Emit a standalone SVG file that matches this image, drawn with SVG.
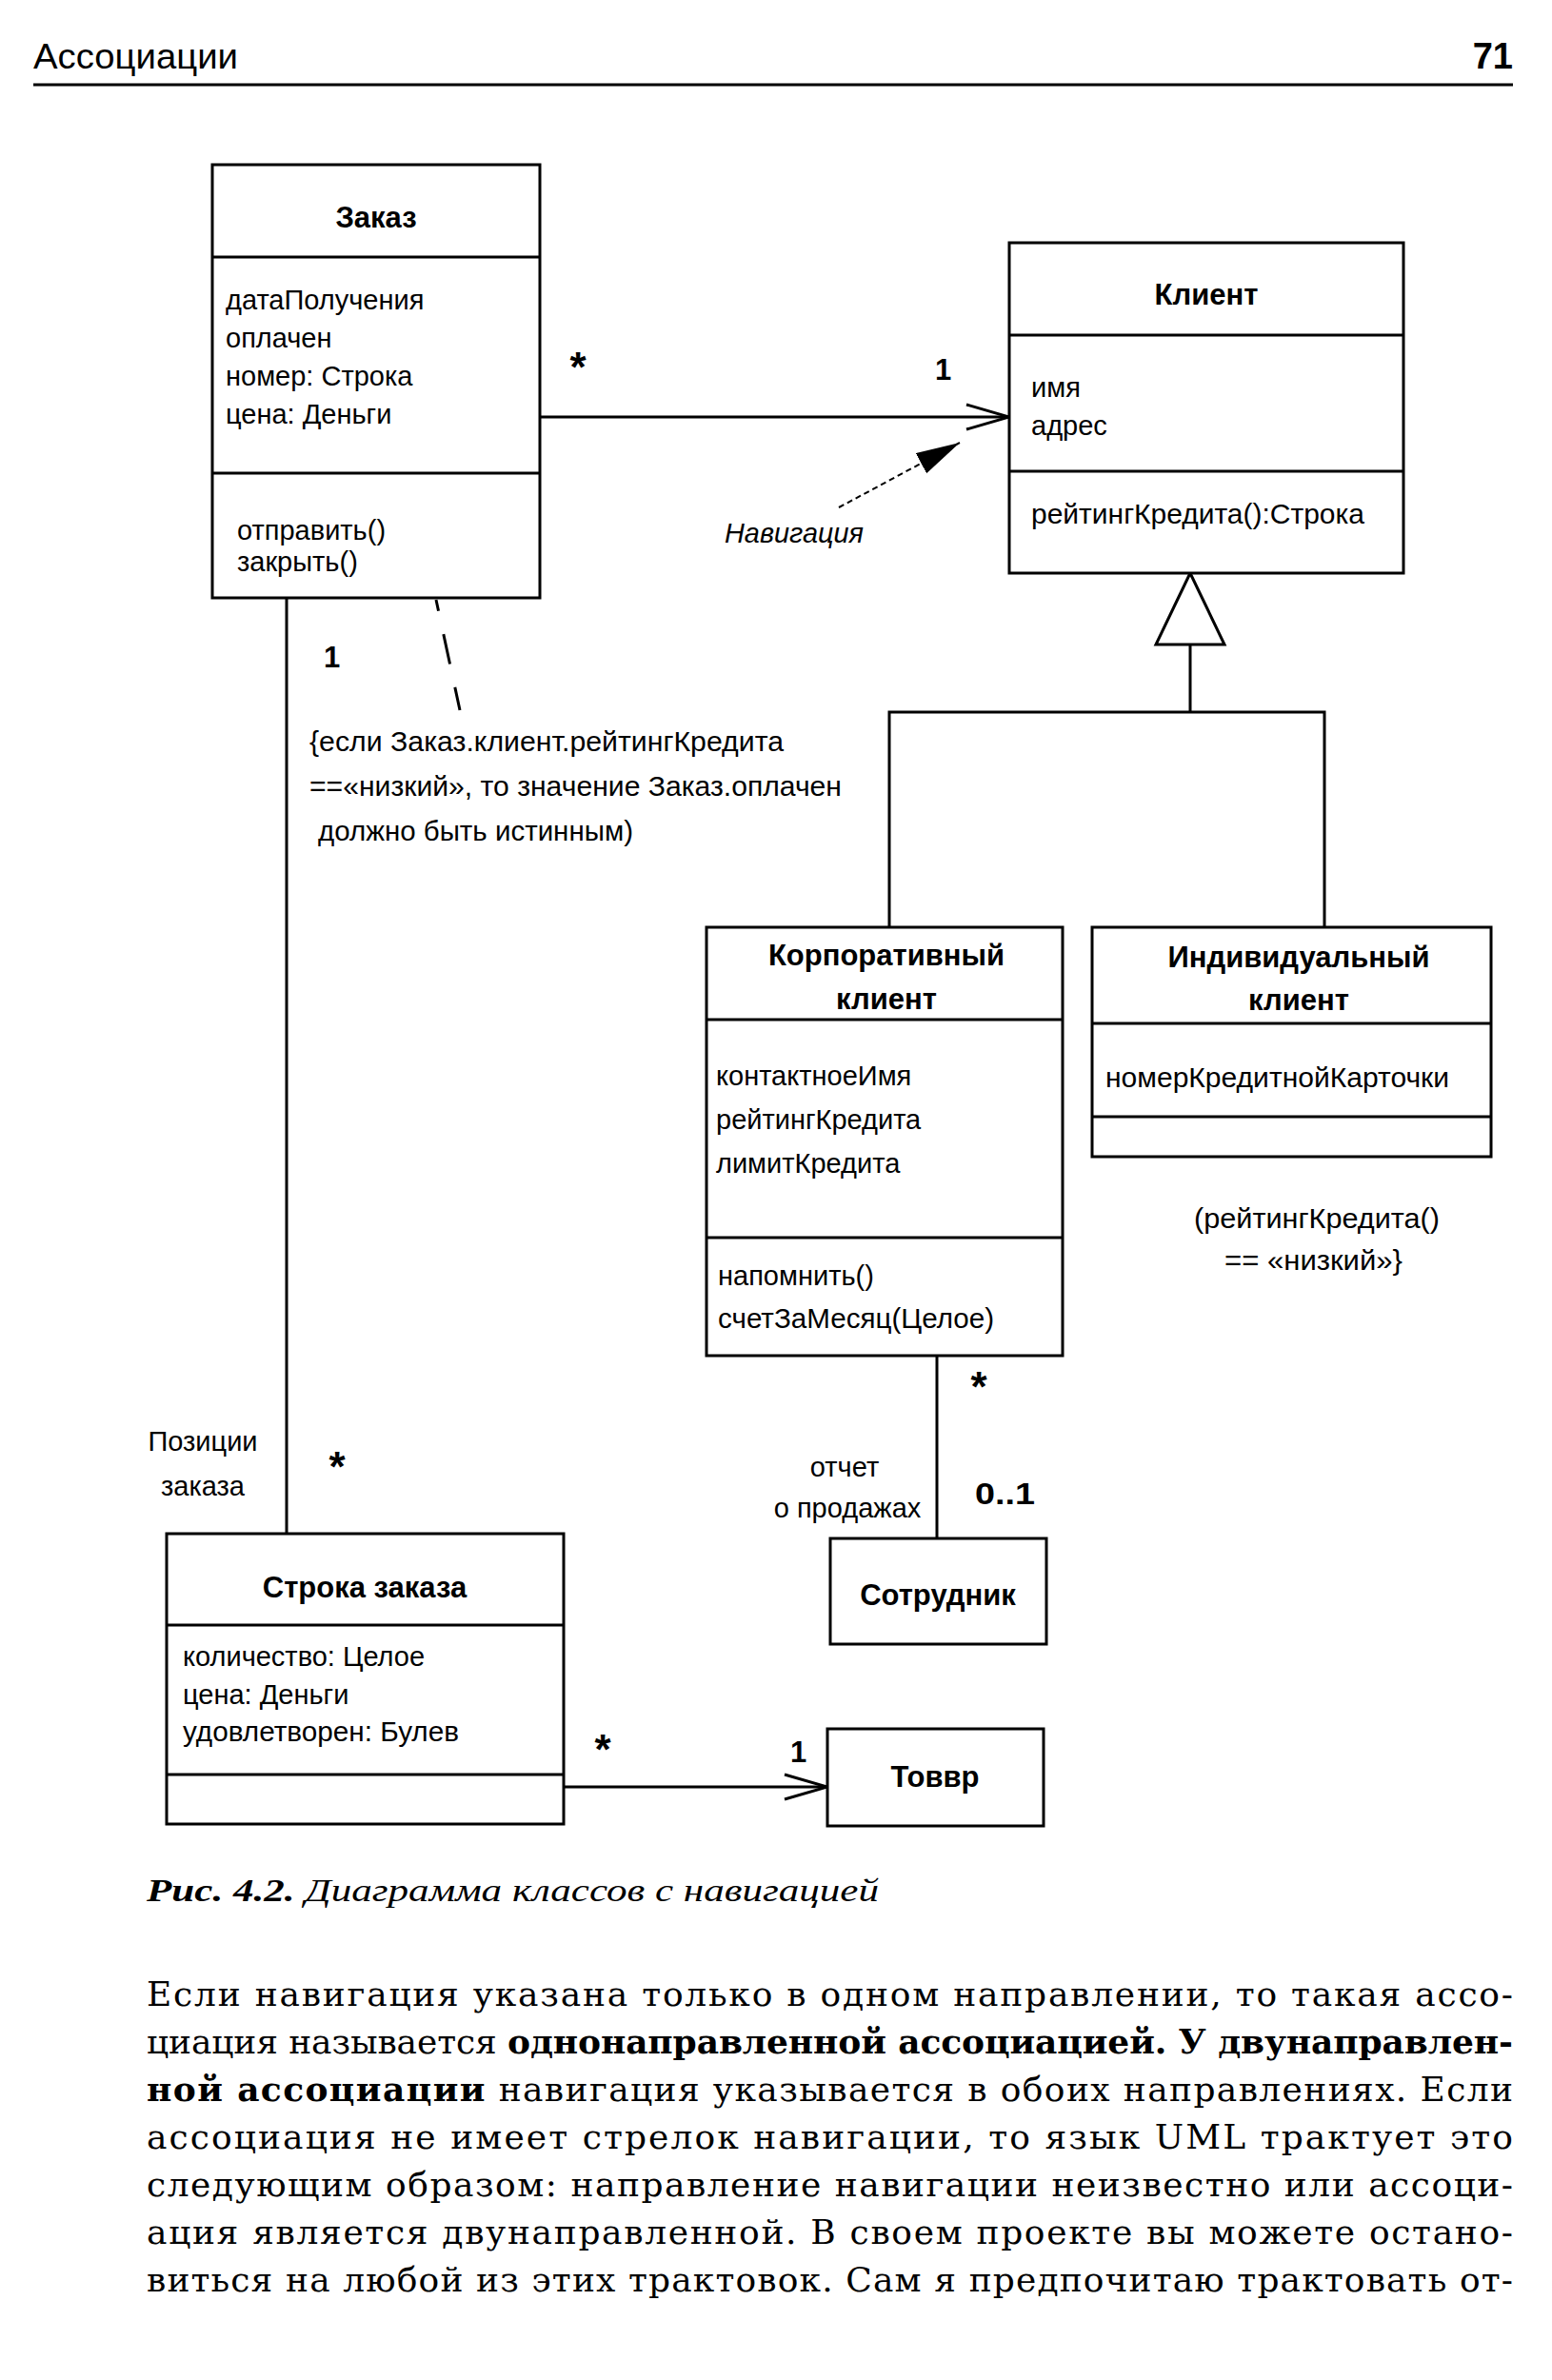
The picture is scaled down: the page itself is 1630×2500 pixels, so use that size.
<svg xmlns="http://www.w3.org/2000/svg" width="1630" height="2500" viewBox="0 0 1630 2500">
<style>
.bx{fill:#fff;stroke:#000;stroke-width:3}
.ln{fill:none;stroke:#000;stroke-width:3}
.t{font-family:"Liberation Sans",Arial,sans-serif;font-size:29px;fill:#000}
.ti{font-family:"Liberation Sans",Arial,sans-serif;font-size:31px;font-weight:bold;text-anchor:middle;fill:#000}
.mu{font-family:"Liberation Sans",Arial,sans-serif;font-size:31px;font-weight:bold;fill:#000}
.st{font-family:"Liberation Sans",Arial,sans-serif;font-size:44px;font-weight:bold;text-anchor:middle;fill:#000}
.it{font-family:"Liberation Sans",Arial,sans-serif;font-size:29px;font-style:italic;fill:#000}
.body{font-family:"DejaVu Serif","Liberation Serif",serif;font-size:36px;fill:#000}
.cap{font-family:"Liberation Serif",serif;font-size:33px;font-style:italic;fill:#000}
</style>
<defs>
<marker id="open" markerUnits="userSpaceOnUse" markerWidth="52" markerHeight="32" refX="47" refY="15" orient="auto">
<path d="M2,2 L47,15 L2,28" fill="none" stroke="#000" stroke-width="3"/>
</marker>
<marker id="nav" markerUnits="userSpaceOnUse" markerWidth="48" markerHeight="26" refX="46" refY="12" orient="auto">
<path d="M0,0 L46,12 L0,24 Z" fill="#000"/>
</marker>
</defs>
<rect width="1630" height="2500" fill="#fff"/>

<g id="page-header">
<text x="35" y="72" style="font-family:'Liberation Sans',Arial,sans-serif;font-size:36px" textLength="215" lengthAdjust="spacingAndGlyphs">Ассоциации</text>
<text x="1589" y="72" text-anchor="end" style="font-family:'Liberation Sans',Arial,sans-serif;font-size:38px;font-weight:bold">71</text>
<line x1="35" y1="89" x2="1589" y2="89" stroke="#000" stroke-width="3"/>
</g>

<g id="connectors">
<line class="ln" x1="567" y1="438" x2="1060" y2="438" marker-end="url(#open)"/>
<line x1="881" y1="533" x2="1008" y2="465" stroke="#000" stroke-width="2" stroke-dasharray="6 4" marker-end="url(#nav)"/>
<line class="ln" x1="1250" y1="677" x2="1250" y2="748"/>
<polyline class="ln" points="934,974 934,748 1391,748 1391,974"/>
<polygon class="bx" points="1250,602 1214,677 1286,677"/>
<line class="ln" x1="458" y1="630" x2="483" y2="746" stroke-dasharray="32 25" stroke-dashoffset="20"/>
<line class="ln" x1="301" y1="628" x2="301" y2="1611"/>
<line class="ln" x1="984" y1="1424" x2="984" y2="1616"/>
<line class="ln" x1="592" y1="1877" x2="869" y2="1877" marker-end="url(#open)"/>
</g>

<g id="labels">
<text class="st" x="607" y="401">*</text>
<text class="mu" x="982" y="399">1</text>
<text class="it" x="761" y="570" textLength="146" lengthAdjust="spacingAndGlyphs">Навигация</text>
<text class="mu" x="340" y="701">1</text>
<text class="t" x="325" y="789" textLength="498" lengthAdjust="spacingAndGlyphs">{если Заказ.клиент.рейтингКредита</text>
<text class="t" x="325" y="836" textLength="559" lengthAdjust="spacingAndGlyphs">==«низкий», то значение Заказ.оплачен</text>
<text class="t" x="334" y="883" textLength="331" lengthAdjust="spacingAndGlyphs">должно быть истинным)</text>
<text class="t" x="1254" y="1290" textLength="258" lengthAdjust="spacingAndGlyphs">(рейтингКредита()</text>
<text class="t" x="1286" y="1334" textLength="187" lengthAdjust="spacingAndGlyphs">== «низкий»}</text>
<text class="st" x="1028" y="1472">*</text>
<text class="mu" x="1024" y="1580" textLength="63" lengthAdjust="spacingAndGlyphs">0..1</text>
<text class="t" x="887" y="1551" text-anchor="middle">отчет</text>
<text class="t" x="890" y="1594" text-anchor="middle">о продажах</text>
<text class="t" x="213" y="1524" text-anchor="middle">Позиции</text>
<text class="t" x="213" y="1571" text-anchor="middle">заказа</text>
<text class="st" x="354" y="1556">*</text>
<text class="st" x="633" y="1853">*</text>
<text class="mu" x="830" y="1851">1</text>
</g>

<g id="order">
<rect class="bx" x="223" y="173" width="344" height="455"/>
<line class="ln" x1="223" y1="270" x2="567" y2="270"/>
<line class="ln" x1="223" y1="497" x2="567" y2="497"/>
<text class="ti" x="395" y="239">Заказ</text>
<text class="t" x="237" y="325">датаПолучения</text>
<text class="t" x="237" y="365">оплачен</text>
<text class="t" x="237" y="405">номер: Строка</text>
<text class="t" x="237" y="445">цена: Деньги</text>
<text class="t" x="249" y="567">отправить()</text>
<text class="t" x="249" y="600">закрыть()</text>
</g>

<g id="client">
<rect class="bx" x="1060" y="255" width="414" height="347"/>
<line class="ln" x1="1060" y1="352" x2="1474" y2="352"/>
<line class="ln" x1="1060" y1="495" x2="1474" y2="495"/>
<text class="ti" x="1267" y="320">Клиент</text>
<text class="t" x="1083" y="417">имя</text>
<text class="t" x="1083" y="457">адрес</text>
<text class="t" x="1083" y="550" textLength="350" lengthAdjust="spacingAndGlyphs">рейтингКредита():Строка</text>
</g>

<g id="corporate-client">
<rect class="bx" x="742" y="974" width="374" height="450"/>
<line class="ln" x1="742" y1="1071" x2="1116" y2="1071"/>
<line class="ln" x1="742" y1="1300" x2="1116" y2="1300"/>
<text class="ti" x="931" y="1014">Корпоративный</text>
<text class="ti" x="931" y="1060">клиент</text>
<text class="t" x="752" y="1140">контактноеИмя</text>
<text class="t" x="752" y="1186">рейтингКредита</text>
<text class="t" x="752" y="1232">лимитКредита</text>
<text class="t" x="754" y="1350">напомнить()</text>
<text class="t" x="754" y="1395" textLength="290" lengthAdjust="spacingAndGlyphs">счетЗаМесяц(Целое)</text>
</g>

<g id="individual-client">
<rect class="bx" x="1147" y="974" width="419" height="241"/>
<line class="ln" x1="1147" y1="1075" x2="1566" y2="1075"/>
<line class="ln" x1="1147" y1="1173" x2="1566" y2="1173"/>
<text class="ti" x="1364" y="1016">Индивидуальный</text>
<text class="ti" x="1364" y="1061">клиент</text>
<text class="t" x="1161" y="1142" textLength="361" lengthAdjust="spacingAndGlyphs">номерКредитнойКарточки</text>
</g>

<g id="employee">
<rect class="bx" x="872" y="1616" width="227" height="111"/>
<text class="ti" x="985" y="1686">Сотрудник</text>
</g>

<g id="order-line">
<rect class="bx" x="175" y="1611" width="417" height="305"/>
<line class="ln" x1="175" y1="1707" x2="592" y2="1707"/>
<line class="ln" x1="175" y1="1864" x2="592" y2="1864"/>
<text class="ti" x="383" y="1678">Строка заказа</text>
<text class="t" x="192" y="1750">количество: Целое</text>
<text class="t" x="192" y="1790">цена: Деньги</text>
<text class="t" x="192" y="1829" textLength="290" lengthAdjust="spacingAndGlyphs">удовлетворен: Булев</text>
</g>

<g id="product">
<rect class="bx" x="869" y="1816" width="227" height="102"/>
<text class="ti" x="982" y="1877">Товвр</text>
</g>

<g id="caption">
<text class="cap" x="154" y="1997" textLength="769" lengthAdjust="spacingAndGlyphs"><tspan font-weight="bold">Рис. 4.2.</tspan> Диаграмма классов с навигацией</text>
</g>

<g id="body-text">
<text class="body" x="154" y="2107" textLength="1435" lengthAdjust="spacing">Если навигация указана только в одном направлении, то такая ассо-</text>
<text class="body" x="154" y="2157" textLength="1435" lengthAdjust="spacing">циация называется <tspan font-weight="bold">однонаправленной ассоциацией. У двунаправлен-</tspan></text>
<text class="body" x="154" y="2207" textLength="1435" lengthAdjust="spacing"><tspan font-weight="bold">ной ассоциации</tspan> навигация указывается в обоих направлениях. Если</text>
<text class="body" x="154" y="2257" textLength="1435" lengthAdjust="spacing">ассоциация не имеет стрелок навигации, то язык UML трактует это</text>
<text class="body" x="154" y="2307" textLength="1435" lengthAdjust="spacing">следующим образом: направление навигации неизвестно или ассоци-</text>
<text class="body" x="154" y="2357" textLength="1435" lengthAdjust="spacing">ация является двунаправленной. В своем проекте вы можете остано-</text>
<text class="body" x="154" y="2407" textLength="1435" lengthAdjust="spacing">виться на любой из этих трактовок. Сам я предпочитаю трактовать от-</text>
</g>
</svg>
